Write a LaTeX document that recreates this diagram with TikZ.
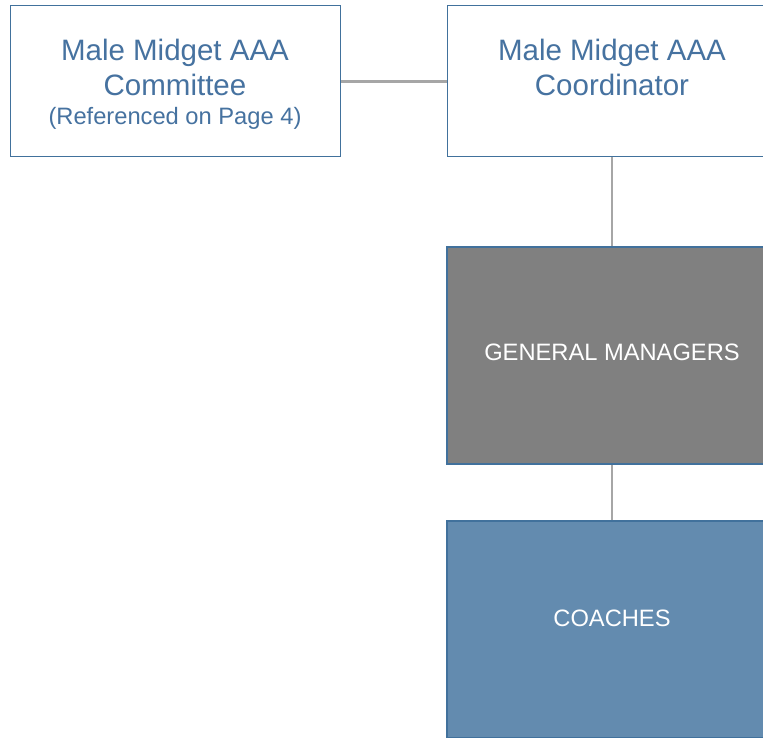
\documentclass[tikz,border=0pt]{standalone}
\usepackage{fontspec}
\setmainfont{Liberation Sans}
\definecolor{txtblue}{HTML}{4672A0}
\definecolor{bordblue}{HTML}{41719C}
\definecolor{gmgray}{HTML}{808080}
\definecolor{coachblue}{HTML}{638BAF}
\definecolor{linkgray}{HTML}{A6A6A6}
\tikzset{
  topbox/.style={draw=bordblue, line width=1pt, fill=white, minimum width=330pt, minimum height=151pt,
    inner sep=0pt, align=center, text=txtblue, font=\fontsize{29.5}{35}\selectfont},
  lowbox/.style={draw=bordblue, line width=2pt, minimum width=330pt, minimum height=217pt,
    inner sep=0pt, text=white, font=\fontsize{23.7}{28}\selectfont, text height=17pt},
  link/.style={draw=linkgray, line width=2.5pt}
}
\begin{document}
\begin{tikzpicture}[x=1pt,y=-1pt]
\useasboundingbox (0,0) rectangle (763,738);
\clip (0,0) rectangle (763,738);
\node[topbox] (comm) at (175,81.5) {\rule{0pt}{27.5pt}Male Midget AAA\\Committee\\[-6pt]{\fontsize{23.7}{28}\selectfont (Referenced on Page 4)}};
\node[topbox] (coord) at (612,81.5) {\rule{0pt}{27.5pt}Male Midget AAA\\Coordinator\\[-6pt]{\fontsize{23.7}{28}\selectfont\vphantom{(}}};
\node[lowbox, fill=gmgray, text depth=8pt] (gm) at (612,355.5) {GENERAL MANAGERS};
\node[lowbox, fill=coachblue, text depth=24pt] (coach) at (612,629.5) {COACHES};
\draw[link] (comm.east) -- (coord.west);
\draw[link] (coord.south) -- (gm.north);
\draw[link] (gm.south) -- (coach.north);
\end{tikzpicture}
\end{document}
